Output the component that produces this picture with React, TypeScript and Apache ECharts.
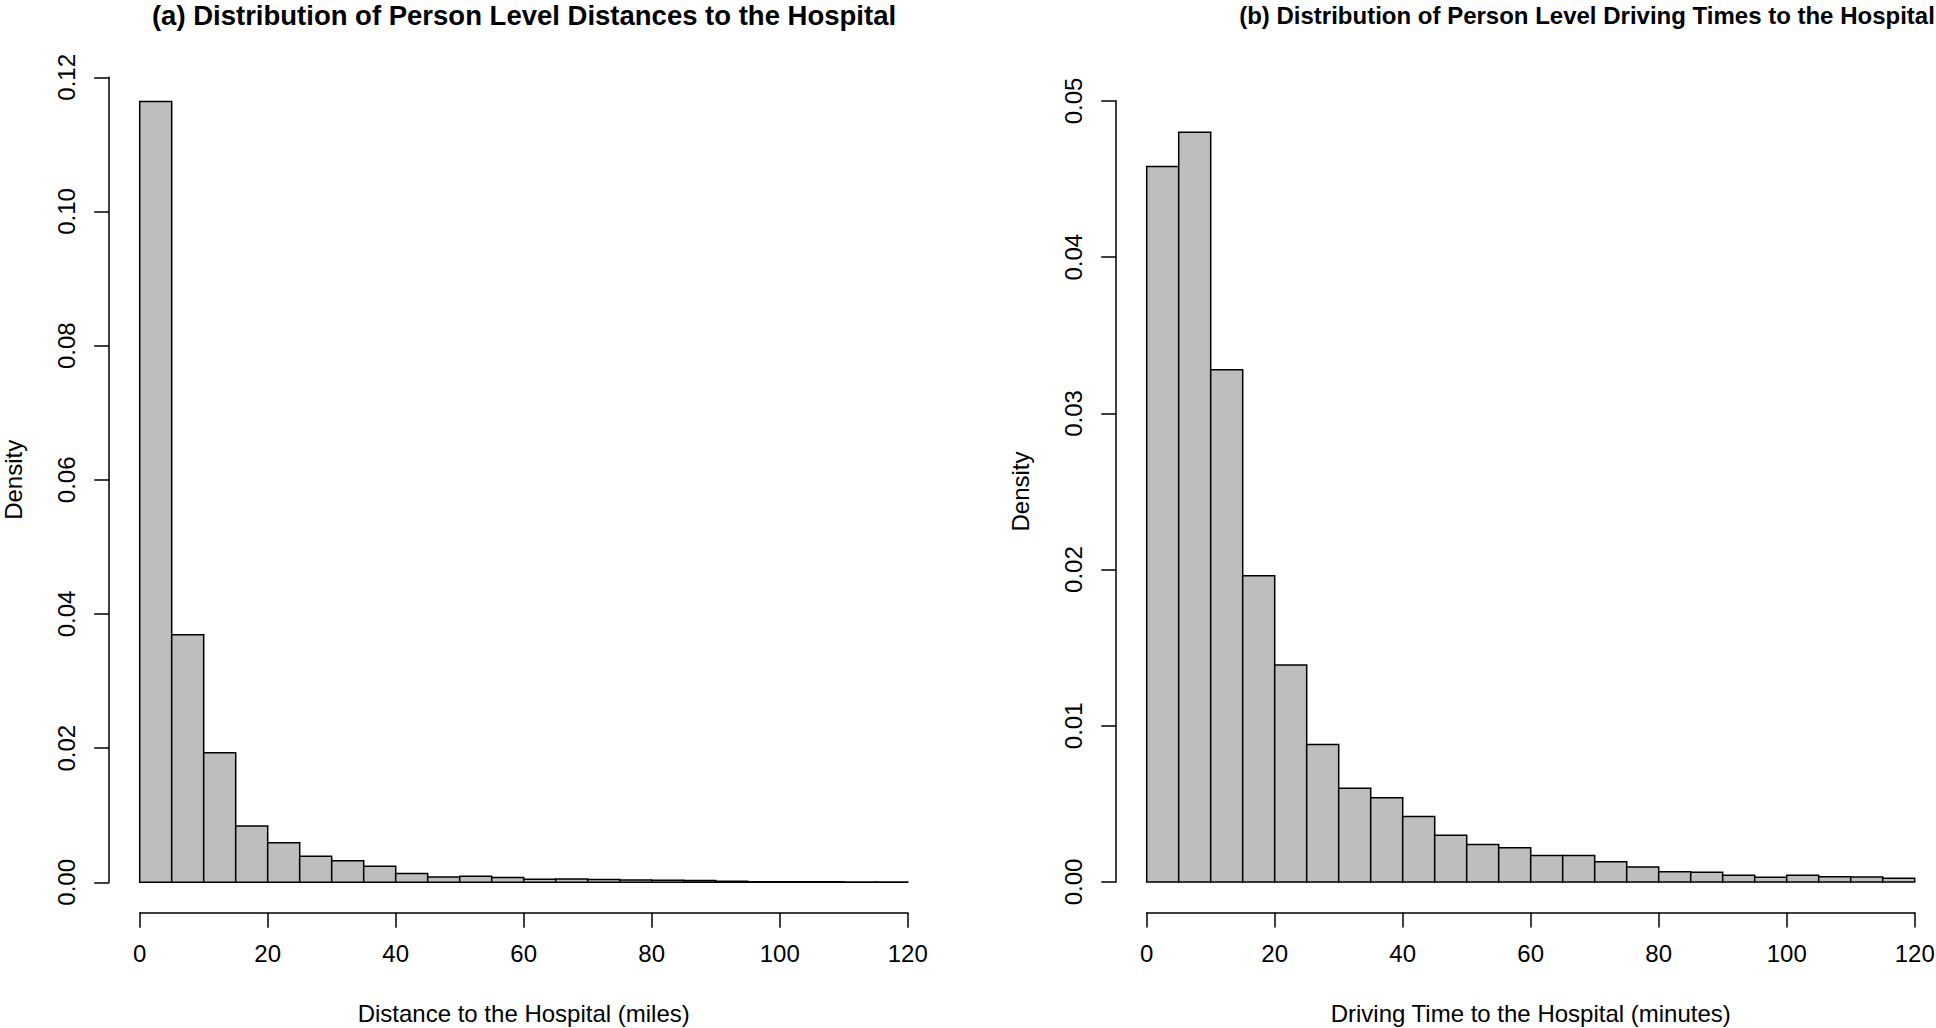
import React, { useEffect, useRef } from "react";
import * as echarts from "echarts";

// Histogram bin edges (5-unit bins from 0 to 120)
const binEdges = [0, 5, 10, 15, 20, 25, 30, 35, 40, 45, 50, 55, 60, 65, 70, 75, 80, 85, 90, 95, 100, 105, 110, 115, 120];

// (a) density of person-level distances (miles)
const distanceDensity = [
  0.1164, 0.0369, 0.0193, 0.0084, 0.0059, 0.0039, 0.0032, 0.0024, 0.0013, 0.0008, 0.0009, 0.0007,
  0.00045, 0.0005, 0.0004, 0.00035, 0.0003, 0.00025, 0.00015, 0.0001, 0.0001, 0.00008, 0.00005, 0.00005,
];

// (b) density of person-level driving times (minutes)
const drivingDensity = [
  0.0458, 0.048, 0.0328, 0.0196, 0.0139, 0.0088, 0.006, 0.0054, 0.0042, 0.003, 0.0024, 0.0022,
  0.0017, 0.0017, 0.0013, 0.00096, 0.00066, 0.00062, 0.00043, 0.0003, 0.00043, 0.00034, 0.00032, 0.00024,
];

const xTickValues = [0, 20, 40, 60, 80, 100, 120];

const titleA = "(a) Distribution of Person Level Distances to the Hospital";
const titleB = "(b) Distribution of Person Level Driving Times to the Hospital";
const xNameA = "Distance to the Hospital (miles)";
const xNameB = "Driving Time to the Hospital (minutes)";
const yName = "Density";

const FONT = '"Liberation Sans", Arial, Helvetica, sans-serif';

function toHist(values: number[]) {
  return values.map((v, i) => [binEdges[i], binEdges[i + 1], v]);
}

export default function App() {
  const ref = useRef<HTMLDivElement>(null);

  useEffect(() => {
    if (!ref.current) return;
    const chart = echarts.init(ref.current, undefined, { renderer: "svg" });

    const axisText = { fontFamily: FONT, fontSize: 24, color: "#000" };
    const lineStyle = { color: "#000", width: 1.5 };

    const makeX = (gridIndex: number, name: string) => ({
      type: "value",
      gridIndex,
      min: xTickValues[0],
      max: xTickValues[xTickValues.length - 1],
      interval: 20,
      offset: 30.5,
      position: "bottom",
      axisLine: { show: true, onZero: false, lineStyle },
      axisTick: { show: true, inside: false, length: 15, lineStyle },
      axisLabel: { ...axisText, margin: 29 },
      splitLine: { show: false },
      name,
      nameLocation: "middle",
      nameGap: 89,
      nameTextStyle: { ...axisText },
    });

    const makeY = (gridIndex: number, max: number, interval: number) => ({
      type: "value",
      gridIndex,
      min: 0,
      max,
      interval,
      offset: 30.5,
      position: "left",
      axisLine: { show: true, onZero: false, lineStyle },
      axisTick: { show: true, inside: false, length: 15, lineStyle },
      axisLabel: {
        ...axisText,
        rotate: 90,
        margin: 31,
        formatter: (v: number) => v.toFixed(2),
      },
      splitLine: { show: false },
      name: yName,
      nameLocation: "middle",
      nameGap: 84,
      nameTextStyle: { ...axisText },
    });

    const renderItem = (params: any, api: any) => {
      const p0 = api.coord([api.value(0), api.value(2)]);
      const p1 = api.coord([api.value(1), 0]);
      return {
        type: "rect",
        shape: { x: p0[0], y: p0[1], width: p1[0] - p0[0], height: p1[1] - p0[1] },
        style: { fill: "#bebebe", stroke: "#000", lineWidth: 1.5 },
      };
    };

    chart.setOption({
      animation: false,
      backgroundColor: "#fff",
      grid: [
        { left: 139.7, top: 77.3, width: 768, height: 805, containLabel: false, outerBoundsMode: "none" },
        { left: 1146.7, top: 101, width: 768, height: 781, containLabel: false, outerBoundsMode: "none" },
      ],
      xAxis: [makeX(0, xNameA), makeX(1, xNameB)],
      yAxis: [makeY(0, 0.12, 0.02), makeY(1, 0.05, 0.01)],
      series: [
        {
          type: "custom",
          xAxisIndex: 0,
          yAxisIndex: 0,
          renderItem,
          encode: { x: [0, 1], y: 2 },
          data: toHist(distanceDensity),
        },
        {
          type: "custom",
          xAxisIndex: 1,
          yAxisIndex: 1,
          renderItem,
          encode: { x: [0, 1], y: 2 },
          data: toHist(drivingDensity),
        },
      ],
      graphic: [
        {
          type: "text",
          x: 524,
          y: 15,
          style: {
            text: titleA,
            fontFamily: FONT,
            fontSize: 27.5,
            fontWeight: "bold",
            fill: "#000",
            align: "center",
            verticalAlign: "middle",
          },
        },
        {
          type: "text",
          x: 1587,
          y: 15,
          style: {
            text: titleB,
            fontFamily: FONT,
            fontSize: 24,
            fontWeight: "bold",
            fill: "#000",
            align: "center",
            verticalAlign: "middle",
          },
        },
      ],
    });

    return () => chart.dispose();
  }, []);

  return (
    <div
      ref={ref}
      style={{ position: "absolute", left: 0, top: 0, width: 1936, height: 1028, background: "#fff" }}
    />
  );
}
